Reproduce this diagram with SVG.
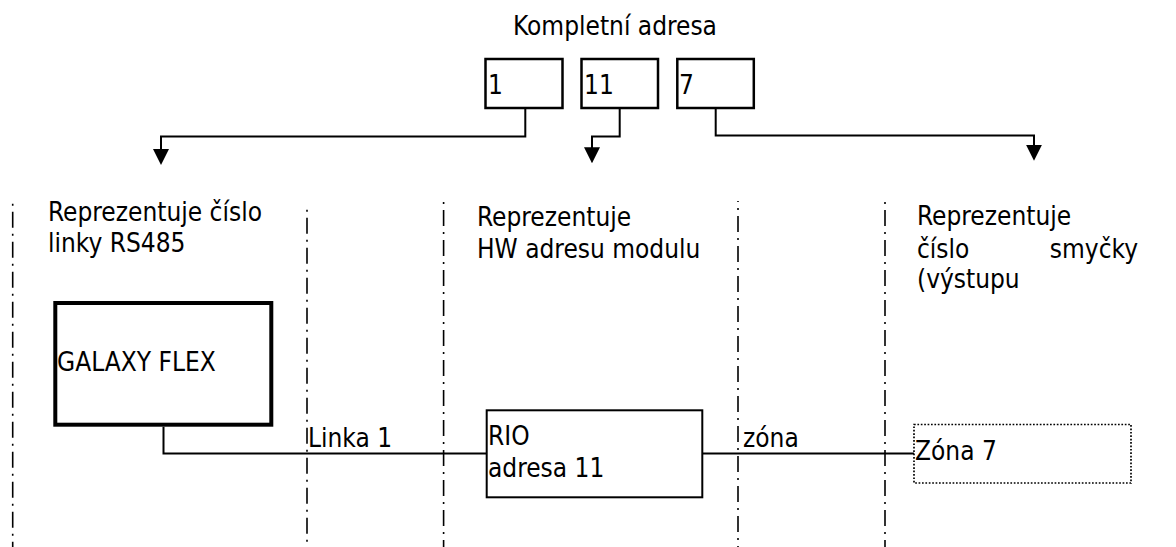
<svg xmlns="http://www.w3.org/2000/svg" width="1176" height="547" viewBox="0 0 1176 547">
<style>
text{font-family:"DejaVu Sans Condensed","DejaVu Sans",sans-serif;font-stretch:condensed;font-size:26px;fill:#000}
.box{fill:#fff;stroke:#000;stroke-width:2.5}
.thick{fill:#fff;stroke:#000;stroke-width:4}
.thin{fill:#fff;stroke:#000;stroke-width:2}
.dotted{fill:none;stroke:#000;stroke-width:1.7;stroke-dasharray:1.7 1.7}
.conn{fill:none;stroke:#000;stroke-width:2}
.sep{fill:none;stroke:#000;stroke-width:1.6;stroke-dasharray:16 6 2 6}
</style>
<defs>
<marker id="arr" markerUnits="userSpaceOnUse" markerWidth="16" markerHeight="16" viewBox="0 0 16 16" refX="14" refY="8" orient="auto">
<path d="M0,0 L16,8 L0,16 z" fill="#000"/>
</marker>
</defs>
<g id="separators">
<line class="sep" x1="12.7" y1="203" x2="12.7" y2="547" stroke-dashoffset="21.3"/>
<line class="sep" x1="307" y1="209" x2="307" y2="547" stroke-dashoffset="21.3"/>
<line class="sep" x1="443.6" y1="201" x2="443.6" y2="547" stroke-dashoffset="21"/>
<line class="sep" x1="738" y1="201" x2="738" y2="547" stroke-dashoffset="15"/>
<line class="sep" x1="885" y1="201" x2="885" y2="547" stroke-dashoffset="21"/>
</g>
<g id="title"><text x="513" y="35">Kompletní adresa</text></g>
<g id="labels">
<text x="48" y="221">Reprezentuje číslo</text>
<text x="48" y="252">linky RS485</text>
<text x="477" y="226">Reprezentuje</text>
<text x="477" y="258">HW adresu modulu</text>
<text x="917" y="225">Reprezentuje</text>
<text x="917" y="258">číslo</text>
<text x="1138" y="258" text-anchor="end">smyčky</text>
<text x="917" y="288">(výstupu</text>
<text x="308" y="447">Linka 1</text>
<text x="743" y="447">zóna</text>
</g>
<g id="connectors">
<path class="conn" d="M525.3 109 V136.5 H161 V163" marker-end="url(#arr)"/>
<path class="conn" d="M619.7 109 V136.5 H592 V161.3" marker-end="url(#arr)"/>
<path class="conn" d="M715.7 109 V135.5 H1034 V158.7" marker-end="url(#arr)"/>
<path class="conn" d="M163.5 426.7 V453.5 H486.7"/>
<path class="conn" d="M702.3 453.5 H914"/>
</g>
<g id="addr1"><rect class="box" x="485.5" y="59" width="77" height="49"/><text x="488" y="94">1</text></g>
<g id="addr11"><rect class="box" x="581.5" y="59" width="76.5" height="49"/><text x="584" y="94">11</text></g>
<g id="addr7"><rect class="box" x="677.3" y="59" width="76.5" height="49"/><text x="679" y="94">7</text></g>
<g id="galaxy"><rect class="thick" x="55.3" y="303" width="216" height="121.7"/><text x="57" y="371">GALAXY FLEX</text></g>
<g id="rio"><rect class="thin" x="486.7" y="410.3" width="215.6" height="87"/><text x="488" y="445">RIO</text><text x="488" y="477">adresa 11</text></g>
<g id="zona7"><rect class="dotted" x="914" y="424.5" width="217" height="58.5"/><text x="915" y="460">Zóna 7</text></g>
</svg>
